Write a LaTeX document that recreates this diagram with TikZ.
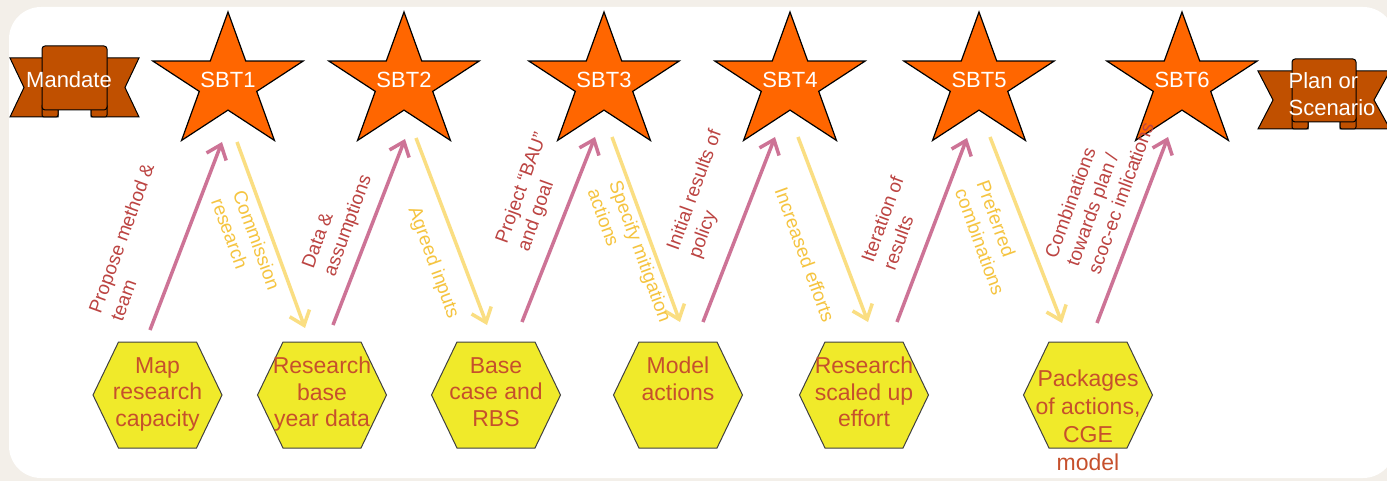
\documentclass[tikz,border=0pt]{standalone}
\usepackage{fontspec}
\setmainfont{Liberation Sans}
\usetikzlibrary{arrows.meta}
\definecolor{bgout}{RGB}{243,239,233}
\definecolor{starfill}{RGB}{255,102,0}
\definecolor{banfill}{RGB}{192,80,0}
\definecolor{hexfill}{RGB}{240,234,42}
\definecolor{hextext}{RGB}{198,80,44}
\definecolor{pinkline}{RGB}{205,115,150}
\definecolor{pinktext}{RGB}{188,68,66}
\definecolor{yelline}{RGB}{250,222,130}
\definecolor{yeltext}{RGB}{245,196,64}
\newcommand\sbtstar[4]{%
  \draw[starstyle,shift={(#2,#3)}] (270:79 and 71) -- (306:30.2 and 27.1) -- (342:79 and 71) -- (18:30.2 and 27.1) -- (54:79 and 71) -- (90:30.2 and 27.1) -- (126:79 and 71) -- (162:30.2 and 27.1) -- (198:79 and 71) -- (234:30.2 and 27.1) -- cycle;
  \node[whitelabel] (#1) at (#2,#3-3) {#4};}
\newcommand\hexa[2]{%
  \draw[hexstyle,shift={(#1,#2)}] (-64.5,0) -- (-39,-53) -- (39,-53) -- (64.5,0) -- (39,53) -- (-39,53) -- cycle;}
\begin{document}
\begin{tikzpicture}[x=1pt,y=-1pt,
  starstyle/.style={fill=starfill, draw=black, line width=1.2pt, line join=miter},
  bannerstyle/.style={fill=banfill, draw=black, line width=1pt},
  hexstyle/.style={fill=hexfill, draw=black!75, line width=1pt},
  whitelabel/.style={text=white, font=\fontsize{22}{27}\selectfont, inner sep=0},
  hexlabel/.style={text=hextext, font=\fontsize{23}{26.5}\selectfont, align=center, inner sep=0, anchor=north},
  uparrow/.style={draw=pinkline, line width=3.5pt, -{Straight Barb[length=13pt,width=21pt]}},
  downarrow/.style={draw=yelline, line width=3.5pt, -{Straight Barb[length=13pt,width=21pt]}},
  uplabel/.style={text=pinktext, font=\fontsize{19}{23}\selectfont, align=left, rotate=70, inner sep=0},
  downlabel/.style={text=yeltext, font=\fontsize{19}{23}\selectfont, align=left, rotate=-70, inner sep=0},
]
\useasboundingbox (0,0) rectangle (1387,481);
\fill[bgout] (0,0) rectangle (1387,481);
\fill[white, rounded corners=32pt] (9,7) rectangle (1395,478);

% Mandate banner
\draw[bannerstyle] (10,58) -- (58,58) -- (58,117) -- (10,117) -- (24,87.5) -- cycle;
\draw[bannerstyle] (139,58) -- (91,58) -- (91,117) -- (139,117) -- (125,87.5) -- cycle;
\draw[bannerstyle, rounded corners=2pt] (42,104) rectangle (58,117);
\draw[bannerstyle, rounded corners=2pt] (91,104) rectangle (107,117);
\draw[bannerstyle, rounded corners=3pt] (42,46) rectangle (107,110);
\node[whitelabel] (mandate) at (69,80) {Mandate};

% Plan banner
\draw[bannerstyle] (1258,71) -- (1308,71) -- (1308,129) -- (1258,129) -- (1273,100) -- cycle;
\draw[bannerstyle] (1390,71) -- (1340,71) -- (1340,129) -- (1390,129) -- (1374,100) -- cycle;
\draw[bannerstyle, rounded corners=2pt] (1292,116) rectangle (1308,129);
\draw[bannerstyle, rounded corners=2pt] (1340,116) rectangle (1356,129);
\draw[bannerstyle, rounded corners=3pt] (1292,59) rectangle (1356,122);
\node[whitelabel, align=left] (plan) at (1332,94) {Plan or\\Scenario};

% stars
\sbtstar{s1}{228}{83}{SBT1}
\sbtstar{s2}{404}{83}{SBT2}
\sbtstar{s3}{604}{83}{SBT3}
\sbtstar{s4}{790}{83}{SBT4}
\sbtstar{s5}{979}{83}{SBT5}
\sbtstar{s6}{1182}{83}{SBT6}

% hexagons
\hexa{157.5}{395}
\hexa{322}{395}
\hexa{496}{395}
\hexa{678}{395}
\hexa{864}{395}
\hexa{1088}{395}
\node[hexlabel] (h1) at (157.5,357) {Map\\research\\capacity};
\node[hexlabel] (h2) at (322,357) {Research\\base\\year data};
\node[hexlabel] (h3) at (496,357) {Base\\case and\\RBS};
\node[hexlabel] (h4) at (678,357) {Model\\actions};
\node[hexlabel] (h5) at (864,357) {Research\\scaled up\\effort};
\node[hexlabel, font=\fontsize{23}{28}\selectfont] (h6) at (1088,370) {Packages\\of actions,\\CGE\\model};

% arrow end points
\coordinate (u1a) at (150,330);  \coordinate (u1b) at (222,142);
\coordinate (d1a) at (237,142);  \coordinate (d1b) at (305,328);
\coordinate (u2a) at (333,325);  \coordinate (u2b) at (405,139);
\coordinate (d2a) at (416,138);  \coordinate (d2b) at (487,325);
\coordinate (u3a) at (522,322);  \coordinate (u3b) at (595,137);
\coordinate (d3a) at (612,137);  \coordinate (d3b) at (680,322);
\coordinate (u4a) at (703,322);  \coordinate (u4b) at (775,137);
\coordinate (d4a) at (798,137);  \coordinate (d4b) at (868,322);
\coordinate (u5a) at (897,322);  \coordinate (u5b) at (967,138);
\coordinate (d5a) at (990,137);  \coordinate (d5b) at (1062,323);
\coordinate (u6a) at (1097,323); \coordinate (u6b) at (1168,137);

\draw[uparrow] (u1a) -- (u1b);
\draw[downarrow] (d1a) -- (d1b);
\draw[uparrow] (u2a) -- (u2b);
\draw[downarrow] (d2a) -- (d2b);
\draw[uparrow] (u3a) -- (u3b);
\draw[downarrow] (d3a) -- (d3b);
\draw[uparrow] (u4a) -- (u4b);
\draw[downarrow] (d4a) -- (d4b);
\draw[uparrow] (u5a) -- (u5b);
\draw[downarrow] (d5a) -- (d5b);
\draw[uparrow] (u6a) -- (u6b);

% labels
\node[uplabel] (l1) at (132,242) {Propose method \&\\team};
\node[downlabel] (l2) at (246,244) {Commission\\research};
\node[uplabel] (l3) at (338,222) {Data \&\\assumptions};
\node[downlabel] (l4) at (433,263) {Agreed inputs};
\node[uplabel] (l5) at (533,192) {Project “BAU”\\and goal};
\node[downlabel] (l6) at (630,255) {Specify mitigation\\actions};
\node[uplabel] (l7) at (706,194) {Initial results of\\policy};
\node[downlabel] (l8) at (805,255) {Increased efforts};
\node[uplabel] (l9) at (893,223) {Iteration of\\results};
\node[downlabel] (l10) at (991,238) {Preferred\\combinations};
\node[uplabel] (l11) at (1099,190) {Combinations\\towards plan /\\scoc-ec imlications};
\end{tikzpicture}
\end{document}
